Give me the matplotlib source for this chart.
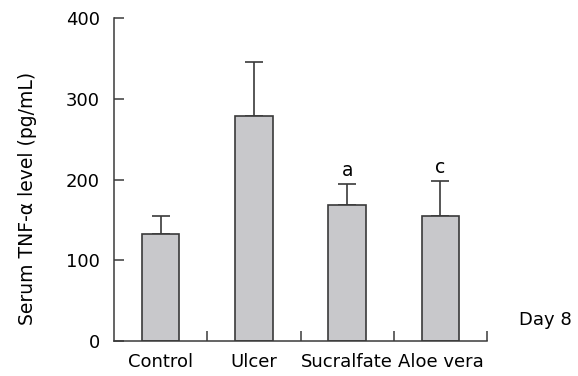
import numpy as np
import matplotlib.pyplot as plt

groups = ["Control", "Ulcer", "Sucralfate", "Aloe vera"]
tnf_mean = [133, 279, 169, 155]
tnf_sd = [22, 67, 26, 43]
marks = ["", "", "a", "c"]

edge = "#3a3a3a"
plt.rcParams['font.family'] = ['DejaVu Sans']

fig = plt.figure(figsize=(5.78, 3.76), dpi=100)
ax = fig.add_axes([0.1972, 0.0931, 0.6454, 0.859])

x = np.arange(len(groups))
ax.bar(x, tnf_mean, width=0.4, color="#c8c8cb", edgecolor=edge, linewidth=1.2, zorder=2)
ax.errorbar(x, tnf_mean, yerr=[np.zeros(len(x)), tnf_sd], fmt="none",
            ecolor=edge, elinewidth=1.2, capsize=6.5, capthick=1.2, zorder=1)

for xi, m, s, lab in zip(x, tnf_mean, tnf_sd, marks):
    if lab:
        ax.text(xi, m + s + 5, lab, ha="center", va="bottom", fontsize=13.5)

ax.set_xlim(-0.5, 3.5)
ax.set_ylim(0, 400)
ax.set_yticks([0, 100, 200, 300, 400])
ax.tick_params(axis="y", direction="in", length=7, width=1.1, color=edge,
               labelsize=13, pad=10)

ax.set_xticks([0.5, 1.5, 2.5, 3.5])
ax.set_xticklabels([])
ax.tick_params(axis="x", which="major", direction="in", length=7, width=1.1, color=edge)
ax.set_xticks(x, minor=True)
ax.set_xticklabels(groups, minor=True)
ax.tick_params(axis="x", which="minor", length=0, labelsize=13, pad=9)

for side in ["top", "right"]:
    ax.spines[side].set_visible(False)
for side in ["left", "bottom"]:
    ax.spines[side].set_color(edge)
    ax.spines[side].set_linewidth(1.1)

ax.set_ylabel("Serum TNF-α level (pg/mL)", fontsize=13.5)
ax.yaxis.set_label_coords(-0.206, 0.441)
ax.text(3.84, 26, "Day 8", ha="left", va="center", fontsize=13, clip_on=False)

fig.savefig("out.png", dpi=100)
